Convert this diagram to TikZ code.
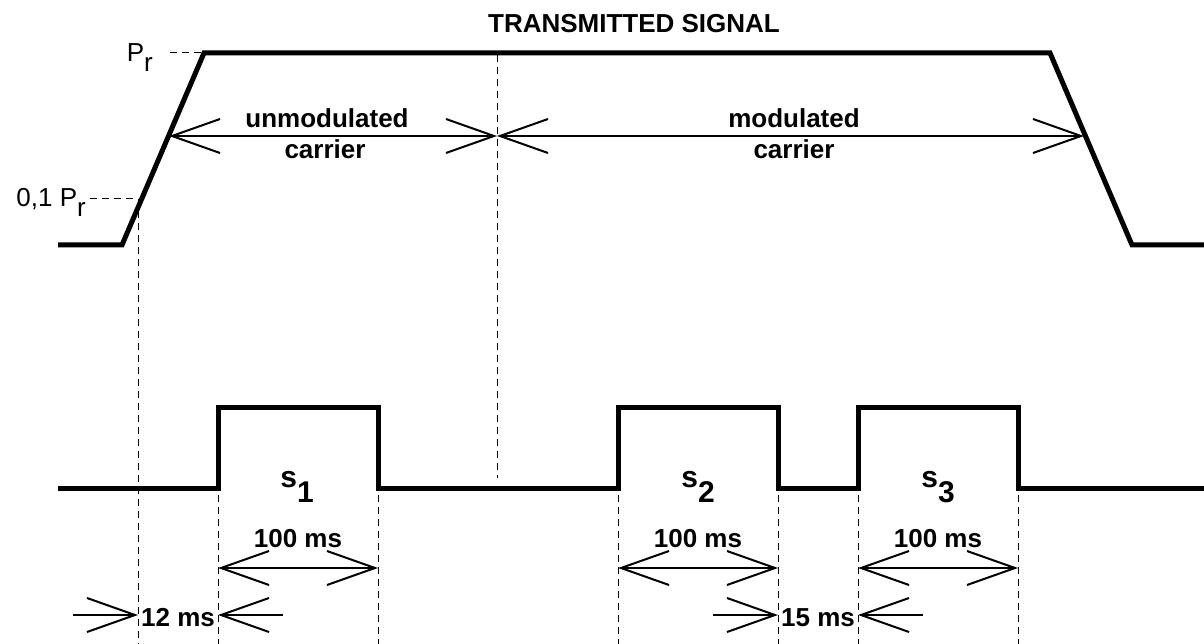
\documentclass[tikz,border=0pt]{standalone}
\usepackage{fontspec}
\setmainfont{Liberation Sans}
\usetikzlibrary{arrows.meta}
\begin{document}
\begin{tikzpicture}[x=1pt,y=-1pt,
  trace/.style={line width=5pt,line join=miter},
  guide/.style={line width=1pt,dash pattern=on 7pt off 5pt},
  dim/.style={line width=2pt},
  barb/.tip={Straight Barb[length=48pt,width=34pt,line width=2pt]},
  lbl/.style={font=\fontsize{26}{30}\selectfont\bfseries, inner sep=0pt, anchor=base},
  plain/.style={font=\fontsize{26}{30}\selectfont, inner sep=0pt, anchor=base east},
  sig/.style={font=\fontsize{30}{34}\selectfont\bfseries, inner sep=0pt, anchor=base}]
\useasboundingbox (0,0) rectangle (1204,644);

% transmitted signal trace
\coordinate (t0) at (58,245);
\coordinate (t1) at (122,245);
\coordinate (t2) at (204,53);
\coordinate (t3) at (1050,53);
\coordinate (t4) at (1132,245);
\coordinate (t5) at (1204,245);
\draw[trace] (t0) -- (t1) -- (t2) -- (t3) -- (t4) -- (t5);

% pulse trace
\coordinate (b0) at (58,488);
\coordinate (b1) at (218,488);
\coordinate (b2) at (218,407);
\coordinate (b3) at (378,407);
\coordinate (b4) at (378,488);
\coordinate (b5) at (618,488);
\coordinate (b6) at (618,407);
\coordinate (b7) at (778,407);
\coordinate (b8) at (778,488);
\coordinate (b9) at (858,488);
\coordinate (b10) at (858,407);
\coordinate (b11) at (1018,407);
\coordinate (b12) at (1018,488);
\coordinate (b13) at (1204,488);
\draw[trace] (b0) -- (b1) -- (b2) -- (b3) -- (b4) -- (b5) -- (b6) -- (b7) -- (b8) -- (b9) -- (b10) -- (b11) -- (b12) -- (b13);

% guide lines
\coordinate (prg) at (170,53);
\draw[guide] (prg) -- (t2);
\coordinate (p10a) at (90,199);
\coordinate (p10b) at (138,199);
\coordinate (p10c) at (138,644);
\draw[guide] (p10a) -- (p10b) -- (p10c);
\coordinate (mida) at (497,55);
\coordinate (midb) at (497,478);
\draw[guide] (mida) -- (midb);
\foreach \x/\n in {218/a,378/b,618/c,778/d,858/e,1018/f}{
  \coordinate (v\n1) at (\x,495);
  \coordinate (v\n2) at (\x,644);
  \draw[guide] (v\n1) -- (v\n2);
}

% carrier dimension arrows
\coordinate (ua) at (169,136);
\coordinate (ub) at (497,136);
\coordinate (uc) at (1084,136);
\draw[dim,barb-barb] (ua) -- (ub);
\draw[dim,barb-barb] (ub) -- (uc);

% 100 ms arrows
\coordinate (h1a) at (218,568); \coordinate (h1b) at (378,568);
\coordinate (h2a) at (618,568); \coordinate (h2b) at (778,568);
\coordinate (h3a) at (858,568); \coordinate (h3b) at (1018,568);
\draw[dim,barb-barb] (h1a) -- (h1b);
\draw[dim,barb-barb] (h2a) -- (h2b);
\draw[dim,barb-barb] (h3a) -- (h3b);

% 12 ms / 15 ms arrows
\coordinate (d1s) at (73,615);  \coordinate (d1e) at (138,615);
\coordinate (d2s) at (283,615); \coordinate (d2e) at (218,615);
\coordinate (d3s) at (713,615); \coordinate (d3e) at (778,615);
\coordinate (d4s) at (923,615); \coordinate (d4e) at (858,615);
\draw[dim,-barb] (d1s) -- (d1e);
\draw[dim,-barb] (d2s) -- (d2e);
\draw[dim,-barb] (d3s) -- (d3e);
\draw[dim,-barb] (d4s) -- (d4e);

% labels
\node[lbl] (title) at (634,33) {TRANSMITTED SIGNAL};
\node[plain] (pr) at (153,62) {P\raisebox{-10pt}{r}};
\node[plain] (p01) at (86,207) {0,1 P\raisebox{-10pt}{r}};
\node[lbl] (um1) at (327,128) {unmodulated};
\node[lbl] (um2) at (325,159) {carrier};
\node[lbl] (mo1) at (794,128) {modulated};
\node[lbl] (mo2) at (794,159) {carrier};
\node[sig] (s1) at (297,487) {s\raisebox{-15pt}{1}};
\node[sig] (s2) at (698,487) {s\raisebox{-15pt}{2}};
\node[sig] (s3) at (938,487) {s\raisebox{-15pt}{3}};
\node[lbl] (m1) at (298,547) {100 ms};
\node[lbl] (m2) at (698,547) {100 ms};
\node[lbl] (m3) at (938,547) {100 ms};
\node[lbl] (m12) at (178,626) {12 ms};
\node[lbl] (m15) at (818,626) {15 ms};
\end{tikzpicture}
\end{document}
